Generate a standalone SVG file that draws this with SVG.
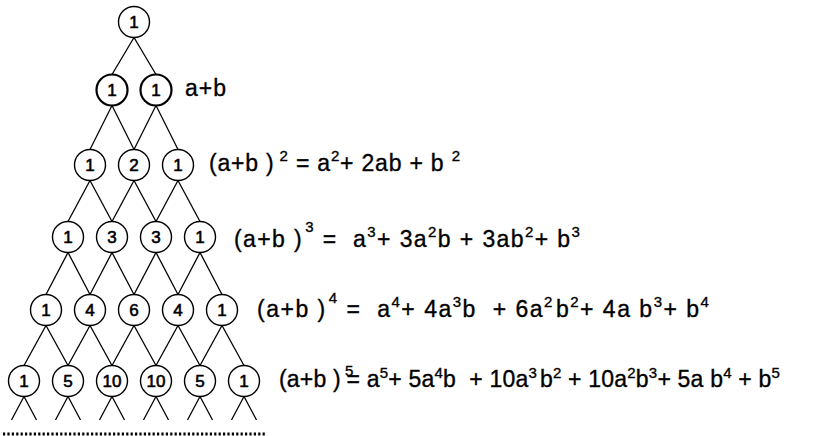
<svg xmlns="http://www.w3.org/2000/svg" width="833" height="436" viewBox="0 0 833 436">
<style>
.n circle{fill:#fff;stroke:#000;stroke-width:1.4}
.n text{font-family:"Liberation Sans",Arial,sans-serif;font-size:17px;text-anchor:middle;fill:#000;stroke:#000;stroke-width:0.6}
.thick circle{stroke-width:2.2}
.c line{stroke:#000;stroke-width:1.3}
.eq{font-family:"Liberation Sans",Arial,sans-serif;font-size:23px;fill:#000;stroke:#000;stroke-width:0.35;white-space:pre}
.s{font-size:15px}
</style>
<rect width="833" height="436" fill="#fff"/>
<g id="connectors" class="c">
<line x1="134" y1="37.5" x2="112" y2="74.5"/><line x1="134" y1="37.5" x2="156" y2="74.5"/>
<line x1="112" y1="105.5" x2="90" y2="149.5"/><line x1="112" y1="105.5" x2="134" y2="149.5"/>
<line x1="156" y1="105.5" x2="134" y2="149.5"/><line x1="156" y1="105.5" x2="178" y2="149.5"/>
<line x1="90" y1="180.5" x2="68" y2="221.5"/><line x1="90" y1="180.5" x2="112" y2="221.5"/>
<line x1="134" y1="180.5" x2="112" y2="221.5"/><line x1="134" y1="180.5" x2="156" y2="221.5"/>
<line x1="178" y1="180.5" x2="156" y2="221.5"/><line x1="178" y1="180.5" x2="200" y2="221.5"/>
<line x1="68" y1="252.5" x2="46" y2="294.5"/><line x1="68" y1="252.5" x2="90" y2="294.5"/>
<line x1="112" y1="252.5" x2="90" y2="294.5"/><line x1="112" y1="252.5" x2="134" y2="294.5"/>
<line x1="156" y1="252.5" x2="134" y2="294.5"/><line x1="156" y1="252.5" x2="178" y2="294.5"/>
<line x1="200" y1="252.5" x2="178" y2="294.5"/><line x1="200" y1="252.5" x2="222" y2="294.5"/>
<line x1="46" y1="325.5" x2="24" y2="365.5"/><line x1="46" y1="325.5" x2="68" y2="365.5"/>
<line x1="90" y1="325.5" x2="68" y2="365.5"/><line x1="90" y1="325.5" x2="112" y2="365.5"/>
<line x1="134" y1="325.5" x2="112" y2="365.5"/><line x1="134" y1="325.5" x2="156" y2="365.5"/>
<line x1="178" y1="325.5" x2="156" y2="365.5"/><line x1="178" y1="325.5" x2="200" y2="365.5"/>
<line x1="222" y1="325.5" x2="200" y2="365.5"/><line x1="222" y1="325.5" x2="244" y2="365.5"/>
<line x1="24" y1="396.5" x2="11.5" y2="420"/><line x1="24" y1="396.5" x2="36.5" y2="420"/>
<line x1="68" y1="396.5" x2="55.5" y2="420"/><line x1="68" y1="396.5" x2="80.5" y2="420"/>
<line x1="112" y1="396.5" x2="99.5" y2="420"/><line x1="112" y1="396.5" x2="124.5" y2="420"/>
<line x1="156" y1="396.5" x2="143.5" y2="420"/><line x1="156" y1="396.5" x2="168.5" y2="420"/>
<line x1="200" y1="396.5" x2="187.5" y2="420"/><line x1="200" y1="396.5" x2="212.5" y2="420"/>
<line x1="244" y1="396.5" x2="231.5" y2="420"/><line x1="244" y1="396.5" x2="256.5" y2="420"/>
</g>
<line x1="3" y1="434" x2="265" y2="434" stroke="#000" stroke-width="3" stroke-dasharray="2.2 2.2"/>
<g id="n0_0" class="n"><circle cx="134" cy="22" r="15.5"/><text x="134" y="28">1</text></g>
<g id="n1_0" class="n thick"><circle cx="112" cy="90" r="15.5"/><text x="112" y="96">1</text></g>
<g id="n1_1" class="n thick"><circle cx="156" cy="90" r="15.5"/><text x="156" y="96">1</text></g>
<g id="n2_0" class="n"><circle cx="90" cy="165" r="15.5"/><text x="90" y="171">1</text></g>
<g id="n2_1" class="n"><circle cx="134" cy="165" r="15.5"/><text x="134" y="171">2</text></g>
<g id="n2_2" class="n"><circle cx="178" cy="165" r="15.5"/><text x="178" y="171">1</text></g>
<g id="n3_0" class="n"><circle cx="68" cy="237" r="15.5"/><text x="68" y="243">1</text></g>
<g id="n3_1" class="n"><circle cx="112" cy="237" r="15.5"/><text x="112" y="243">3</text></g>
<g id="n3_2" class="n"><circle cx="156" cy="237" r="15.5"/><text x="156" y="243">3</text></g>
<g id="n3_3" class="n"><circle cx="200" cy="237" r="15.5"/><text x="200" y="243">1</text></g>
<g id="n4_0" class="n"><circle cx="46" cy="310" r="15.5"/><text x="46" y="316">1</text></g>
<g id="n4_1" class="n"><circle cx="90" cy="310" r="15.5"/><text x="90" y="316">4</text></g>
<g id="n4_2" class="n"><circle cx="134" cy="310" r="15.5"/><text x="134" y="316">6</text></g>
<g id="n4_3" class="n"><circle cx="178" cy="310" r="15.5"/><text x="178" y="316">4</text></g>
<g id="n4_4" class="n"><circle cx="222" cy="310" r="15.5"/><text x="222" y="316">1</text></g>
<g id="n5_0" class="n"><circle cx="24" cy="381" r="15.5"/><text x="24" y="387">1</text></g>
<g id="n5_1" class="n"><circle cx="68" cy="381" r="15.5"/><text x="68" y="387">5</text></g>
<g id="n5_2" class="n"><circle cx="112" cy="381" r="15.5"/><text x="112" y="387">10</text></g>
<g id="n5_3" class="n"><circle cx="156" cy="381" r="15.5"/><text x="156" y="387">10</text></g>
<g id="n5_4" class="n"><circle cx="200" cy="381" r="15.5"/><text x="200" y="387">5</text></g>
<g id="n5_5" class="n"><circle cx="244" cy="381" r="15.5"/><text x="244" y="387">1</text></g>
<g id="equations">
<text class="eq" x="185" y="96" letter-spacing="1">a+b</text>
<text class="eq" x="209" y="171" letter-spacing="0.8">(a+b )<tspan class="s" dx="5" dy="-10">2</tspan><tspan dy="10"> = a</tspan><tspan class="s" dy="-10">2</tspan><tspan dy="10">+ 2ab + b </tspan><tspan class="s" dy="-10">2</tspan></text>
<text class="eq" x="234" y="247" letter-spacing="1.4">(a+b )<tspan class="s" dx="2" dy="-15">3</tspan><tspan dy="15"> =  a</tspan><tspan class="s" dy="-10">3</tspan><tspan dy="10">+ 3a</tspan><tspan class="s" dy="-10">2</tspan><tspan dy="10">b + 3ab</tspan><tspan class="s" dy="-10">2</tspan><tspan dy="10">+ b</tspan><tspan class="s" dy="-10">3</tspan></text>
<text class="eq" x="257" y="317" letter-spacing="1.5">(a+b )<tspan class="s" dx="2" dy="-14">4</tspan><tspan dy="14"> =  a</tspan><tspan class="s" dy="-10">4</tspan><tspan dy="10">+ 4a</tspan><tspan class="s" dy="-10">3</tspan><tspan dy="10">b  + 6a</tspan><tspan class="s" dy="-10">2</tspan><tspan dx="2" dy="10">b</tspan><tspan class="s" dy="-10">2</tspan><tspan dy="10">+ 4a b</tspan><tspan class="s" dy="-10">3</tspan><tspan dy="10">+ b</tspan><tspan class="s" dy="-10">4</tspan></text>
<text class="eq" x="279" y="387" letter-spacing="0.2">(a+b )<tspan class="s" dx="4" dy="-11">5</tspan><tspan dx="-7" dy="11">= a</tspan><tspan class="s" dy="-9">5</tspan><tspan dy="9">+ 5a</tspan><tspan class="s" dy="-9">4</tspan><tspan dy="9">b  + 10a</tspan><tspan class="s" dy="-9">3</tspan><tspan dx="3" dy="9">b</tspan><tspan class="s" dy="-9">2</tspan><tspan dy="9"> + 10a</tspan><tspan class="s" dy="-9">2</tspan><tspan dy="9">b</tspan><tspan class="s" dy="-9">3</tspan><tspan dy="9">+ 5a b</tspan><tspan class="s" dy="-9">4</tspan><tspan dy="9"> + b</tspan><tspan class="s" dy="-9">5</tspan></text>
</g>
</svg>
